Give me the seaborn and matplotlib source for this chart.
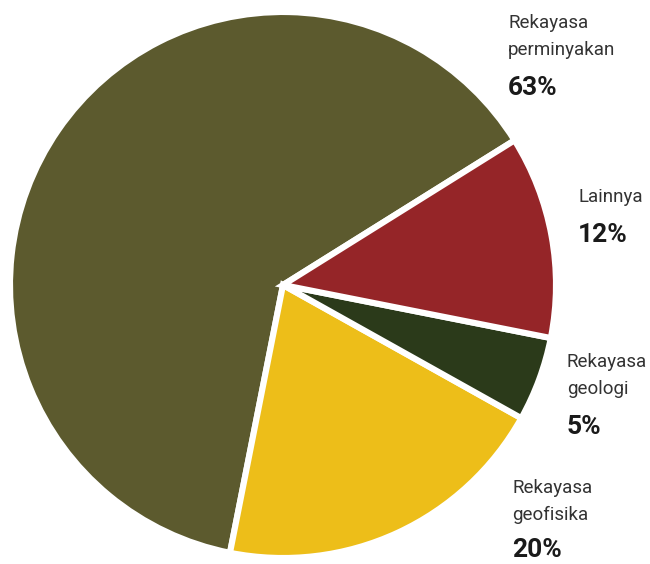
import matplotlib
matplotlib.use("Agg")
import matplotlib.pyplot as plt
import seaborn as sns

categories = ["Rekayasa perminyakan", "Rekayasa geofisika", "Rekayasa geologi", "Lainnya"]
values = [63, 20, 5, 12]
label_lines = [["Rekayasa", "perminyakan"], ["Rekayasa", "geofisika"], ["Rekayasa", "geologi"], ["Lainnya"]]
pct_labels = ["63%", "20%", "5%", "12%"]
colors = ["#5C5A2E", "#EDBE19", "#2B3A1A", "#952528"]

sns.set_theme(style="white")
plt.rcParams["font.family"] = ["Roboto", "DejaVu Sans"]

W, H = 650, 564
fig = plt.figure(figsize=(W / 100, H / 100), dpi=100)
fig.patch.set_facecolor("white")

cx, cy, r = 283, 285, 273
ax = fig.add_axes([(cx - r) / W, (H - cy - r) / H, 2 * r / W, 2 * r / H])
ax.pie(values, colors=colors, startangle=32, counterclock=True,
       wedgeprops=dict(edgecolor="white", linewidth=4.4, joinstyle="miter"))
ax.set_xlim(-1, 1)
ax.set_ylim(-1, 1)
ax.set_aspect("equal")
ax.axis("off")

# label anchor positions in pixels (x-left, first baseline)
anchors = [(508, 28), (512, 493), (567, 367), (578, 202)]
gaps = [13, 10, 13, 13]
for lines, pct, (x, y), g in zip(label_lines, pct_labels, anchors, gaps):
    yy = y
    for ln in lines:
        fig.text(x / W, 1 - yy / H, ln, ha="left", va="baseline",
                 fontsize=13.5, color="#333333")
        yy += 27
    yy += g
    fig.text(x / W, 1 - yy / H, pct, ha="left", va="baseline",
             fontsize=19, fontweight="bold", color="#1a1a1a")

fig.savefig("out.png", dpi=100, facecolor="white")
